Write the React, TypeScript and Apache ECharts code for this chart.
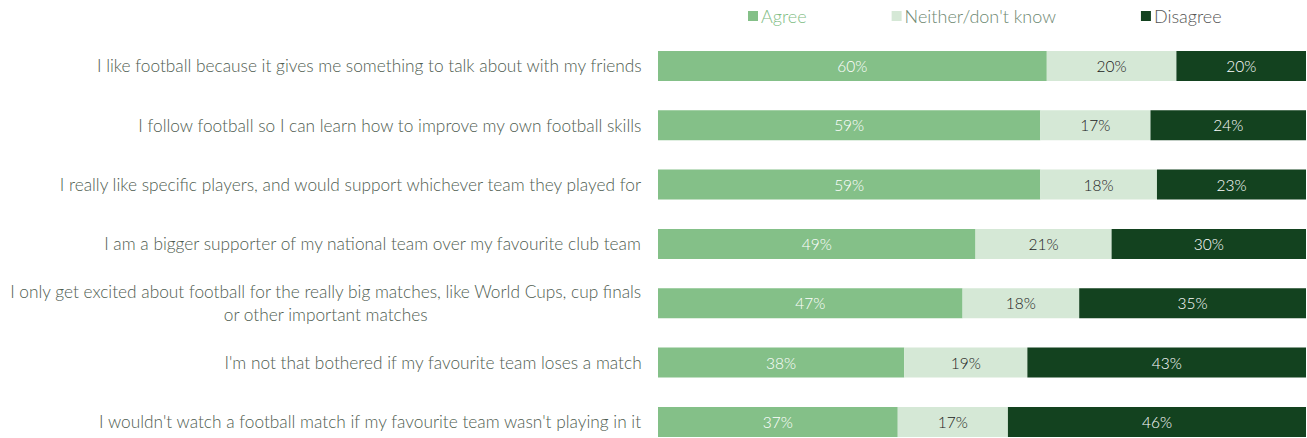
import React, { useEffect, useRef } from "react";
import * as echarts from "echarts";

const categories = [
  "I like football because it gives me something to talk about with my friends",
  "I follow football so I can learn how to improve my own football skills",
  "I really like specific players, and would support whichever team they played for",
  "I am a bigger supporter of my national team over my favourite club team",
  "I only get excited about football for the really big matches, like World Cups, cup finals\nor other important matches",
  "I'm not that bothered if my favourite team loses a match",
  "I wouldn't watch a football match if my favourite team wasn't playing in it",
];
const agree = [60, 59, 59, 49, 47, 38, 37];
const neither = [20, 17, 18, 21, 18, 19, 17];
const disagree = [20, 24, 23, 30, 35, 43, 46];
const seriesNames = ["Agree", "Neither/don't know", "Disagree"];

const FONT = "Lato";
const colors = ["#84c088", "#d5e8d6", "#13421f"];
const labelColors = ["#ffffff", "#1a1a1a", "#ffffff"];
const labelWeights = [300, 300, 300];
const legendTextColors = ["#7fbd84", "#6d8871", "#555555"];
const catColor = "#4f5d51";

export default function App() {
  const ref = useRef<HTMLDivElement>(null);
  useEffect(() => {
    document.body.style.margin = "0";
    if (!ref.current) return;
    const chart = echarts.init(ref.current, null, { renderer: "svg" });
    const datas = [agree, neither, disagree];
    const option: any = {
      animation: false,
      legend: {
        left: 743,
        top: 2,
        itemWidth: 10,
        itemHeight: 10,
        itemGap: 85,
        icon: "rect",
        data: seriesNames.map((n, i) => ({
          name: n,
          textStyle: { color: legendTextColors[i] },
        })),
        textStyle: { fontFamily: FONT, fontWeight: 300, fontSize: 18, padding: [0, 0, 0, -2] },
      },
      grid: {
        left: 658,
        right: 1,
        top: 36.3,
        height: 415.3,
        containLabel: false,
        outerBoundsMode: "none",
      },
      xAxis: {
        type: "value",
        min: 0,
        max: 100,
        show: false,
      },
      yAxis: {
        type: "category",
        inverse: true,
        data: categories,
        axisLine: { show: false },
        axisTick: { show: false },
        splitLine: { show: false },
        axisLabel: {
          margin: 16,
          fontFamily: FONT,
          fontWeight: 300,
          fontSize: 17.3,
          color: catColor,
          lineHeight: 23,
          formatter: (v: string) =>
            v.split("\n").map((l) => `{c|${l}}`).join("\n"),
          rich: {
            c: {
              align: "center",
              fontFamily: FONT,
              fontWeight: 300,
              fontSize: 17.3,
              color: catColor,
              lineHeight: 23,
            },
          },
        },
      },
      series: seriesNames.map((n, i) => ({
        name: n,
        type: "bar",
        stack: "total",
        barWidth: 30,
        data: datas[i],
        itemStyle: { color: colors[i] },
        label: {
          show: true,
          position: "inside",
          formatter: "{c}%",
          color: labelColors[i],
          fontFamily: FONT,
          fontWeight: labelWeights[i],
          fontSize: 15.5,
        },
      })),
    };
    chart.setOption(option);
    return () => chart.dispose();
  }, []);
  return <div ref={ref} style={{ width: 1307, height: 438 }} />;
}
